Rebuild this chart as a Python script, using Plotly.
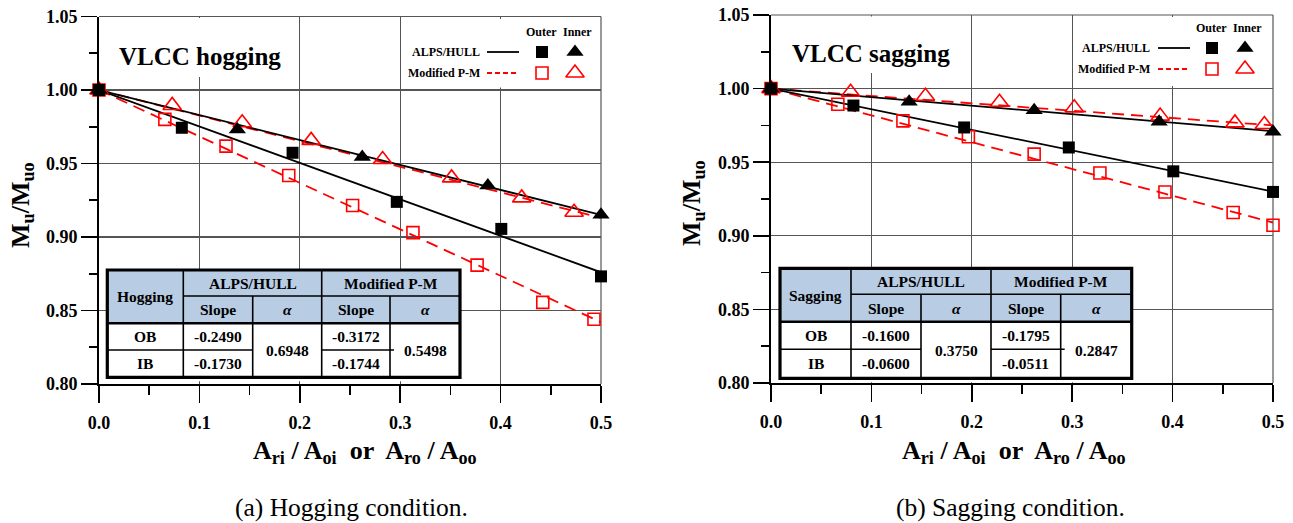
import plotly.graph_objects as go

W, H = 1293, 523
SERIF = "Liberation Serif"

# ---------------- data ----------------
# Hogging
hog_alps_outer_x = [0.0, 0.0825, 0.1928, 0.2966, 0.4007, 0.5]
hog_alps_outer_y = [1.000, 0.9743, 0.9573, 0.9239, 0.9055, 0.8732]
hog_alps_inner_x = [0.0, 0.1378, 0.2622, 0.3873, 0.5]
hog_alps_inner_y = [1.000, 0.9732, 0.9545, 0.9350, 0.9152]
hog_pm_outer_x = [0.0, 0.0656, 0.1265, 0.1890, 0.2526, 0.3127, 0.3766, 0.4420, 0.4930]
hog_pm_outer_y = [1.000, 0.9800, 0.9618, 0.9418, 0.9214, 0.9030, 0.8809, 0.8555, 0.8440]
hog_pm_inner_x = [0.0, 0.0729, 0.1426, 0.2113, 0.2825, 0.3512, 0.4210, 0.4732]
hog_pm_inner_y = [1.000, 0.9895, 0.9777, 0.9657, 0.9527, 0.9402, 0.9266, 0.9168]
# fitted straight lines (end points)
fit_x = [0.0, 0.5]
hog_fit_alps_outer = [1.0, 0.876]
hog_fit_alps_inner = [1.0, 0.915]
hog_fit_pm_outer = [1.0, 0.842]
hog_fit_pm_inner = [1.0, 0.913]

# Sagging
sag_alps_outer_x = [0.0, 0.0821, 0.1924, 0.2966, 0.4007, 0.5]
sag_alps_outer_y = [1.000, 0.9885, 0.9736, 0.9600, 0.9438, 0.9298]
sag_alps_inner_x = [0.0, 0.1376, 0.2621, 0.3866, 0.5]
sag_alps_inner_y = [1.000, 0.9910, 0.9853, 0.9774, 0.9707]
sag_pm_outer_x = [0.0, 0.0666, 0.1314, 0.1966, 0.2621, 0.3276, 0.3924, 0.4603, 0.5]
sag_pm_outer_y = [1.000, 0.9894, 0.9781, 0.9673, 0.9555, 0.9427, 0.9298, 0.9158, 0.9072]
sag_pm_inner_x = [0.0, 0.0793, 0.1538, 0.2276, 0.3021, 0.3876, 0.4621, 0.4914]
sag_pm_inner_y = [1.000, 0.9975, 0.9948, 0.9907, 0.9869, 0.9813, 0.9767, 0.9756]
sag_fit_alps_outer = [1.0, 0.930]
sag_fit_alps_inner = [1.0, 0.971]
sag_fit_pm_outer = [1.0, 0.909]
sag_fit_pm_inner = [1.0, 0.975]

# table texts
tbl_groups = ["ALPS/HULL", "Modified P-M"]
tbl_sub = ["Slope", "<i>α</i>", "Slope", "<i>α</i>"]
tbl_rows = ["OB", "IB"]
hog_slope_alps = ["-0.2490", "-0.1730"]
hog_alpha_alps = "0.6948"
hog_slope_pm = ["-0.3172", "-0.1744"]
hog_alpha_pm = "0.5498"
sag_slope_alps = ["-0.1600", "-0.0600"]
sag_alpha_alps = "0.3750"
sag_slope_pm = ["-0.1795", "-0.0511"]
sag_alpha_pm = "0.2847"

legend_names = ["ALPS/HULL", "Modified P-M"]
legend_heads = ["Outer", "Inner"]

x_ticks = [0.0, 0.1, 0.2, 0.3, 0.4, 0.5]
y_ticks = [0.80, 0.85, 0.90, 0.95, 1.00, 1.05]

# ---------------- styles ----------------
BLACK = "black"
RED = "#ff0000"
BLUE = "#b8cce4"
GRID = "#555555"
SQ = dict(symbol="square", size=12, color=BLACK)
TRI = dict(symbol="triangle-up", size=15, color=BLACK)
SQO = dict(symbol="square-open", size=12, color=RED, line=dict(color=RED, width=1.6))
TRIO = dict(symbol="triangle-up-open", size=16, color=RED, line=dict(color=RED, width=1.6))
SOLID = dict(color=BLACK, width=1.8)
DASH = dict(color=RED, width=1.8, dash="12px,7px")

fig = go.Figure()


def add_panel(xa, ya, fits, series):
    fa_o, fa_i, fp_o, fp_i = fits
    for yv, ln in [(fp_o, DASH), (fp_i, DASH), (fa_o, SOLID), (fa_i, SOLID)]:
        fig.add_trace(go.Scatter(x=fit_x, y=yv, mode="lines", line=ln,
                                 xaxis=xa, yaxis=ya, cliponaxis=False, hoverinfo="skip"))
    for (xs, ys), mk in zip(series, [SQO, TRIO, SQ, TRI]):
        fig.add_trace(go.Scatter(x=xs, y=ys, mode="markers", marker=mk,
                                 xaxis=xa, yaxis=ya, cliponaxis=False))


add_panel("x", "y",
          (hog_fit_alps_outer, hog_fit_alps_inner, hog_fit_pm_outer, hog_fit_pm_inner),
          [(hog_pm_outer_x, hog_pm_outer_y), (hog_pm_inner_x, hog_pm_inner_y),
           (hog_alps_outer_x, hog_alps_outer_y), (hog_alps_inner_x, hog_alps_inner_y)])
add_panel("x2", "y2",
          (sag_fit_alps_outer, sag_fit_alps_inner, sag_fit_pm_outer, sag_fit_pm_inner),
          [(sag_pm_outer_x, sag_pm_outer_y), (sag_pm_inner_x, sag_pm_inner_y),
           (sag_alps_outer_x, sag_alps_outer_y), (sag_alps_inner_x, sag_alps_inner_y)])

shapes = []
annots = []


def txt(x, y, s, size, bold=True, anchor="center", angle=0):
    annots.append(dict(x=x, y=y, xref="x3", yref="y3", text=s,
                       showarrow=False, xanchor=anchor, yanchor="middle", textangle=angle,
                       font=dict(family=SERIF, size=size, color=BLACK,
                                 weight="bold" if bold else "normal")))


def rect(x0, y0, x1, y1, fill, layer="above", line=None):
    shapes.append(dict(type="rect", xref="x3", yref="y3", x0=x0, y0=y0, x1=x1, y1=y1,
                       fillcolor=fill, line=line or dict(width=0), layer=layer))


def seg(x0, y0, x1, y1, w=1.6, color=BLACK, dash=None):
    ln = dict(color=color, width=w)
    if dash:
        ln["dash"] = dash
    shapes.append(dict(type="line", xref="x3", yref="y3", x0=x0, y0=y0, x1=x1, y1=y1,
                       line=ln, layer="above"))


def add_table(cx, ry, corner, s_alps, a_alps, s_pm, a_pm):
    c0, c1, c2, c3, c4, c5 = cx
    r0, r1, r2, r3, r4 = ry
    rect(c0, r0, c5, r4 + 4, "white")
    rect(c0, r0, c5, r2, BLUE)
    seg(c1, r0, c1, r4)
    seg(c3, r0, c3, r4)
    seg(c2, r1, c2, r4)
    seg(c4, r1, c4, r4)
    seg(c1, r1, c5, r1)
    seg(c0, r2, c5, r2, w=2.5)
    seg(c0, r3, c2, r3)
    seg(c3, r3, c4 + 4, r3)
    rect(c0, r0, c5, r4, "rgba(0,0,0,0)", line=dict(color=BLACK, width=3.2))
    fs = 15.5
    mx = lambda a, b: (a + b) / 2
    txt(mx(c0, c1), mx(r0, r2), corner, fs)
    txt(mx(c1, c3), mx(r0, r1), tbl_groups[0], fs)
    txt(mx(c3, c5), mx(r0, r1), tbl_groups[1], fs)
    for (a, b), s in zip([(c1, c2), (c2, c3), (c3, c4), (c4, c5)], tbl_sub):
        txt(mx(a, b), mx(r1, r2), s, fs)
    for (a, b), lab, va, vp in zip([(r2, r3), (r3, r4)], tbl_rows, s_alps, s_pm):
        txt(mx(c0, c1), mx(a, b), lab, fs)
        txt(mx(c1, c2), mx(a, b), va, fs)
        txt(mx(c3, c4), mx(a, b), vp, fs)
    txt(mx(c2, c3), mx(r2, r4), a_alps, fs)
    txt(mx(c4, c5), mx(r2, r4), a_pm, fs)


add_table((107.3, 183.3, 252.7, 321.7, 390, 460), (270, 296, 323.3, 350, 377.3),
          "Hogging", hog_slope_alps, hog_alpha_alps, hog_slope_pm, hog_alpha_pm)
add_table((780, 851, 921, 991, 1060.7, 1131.7), (268.3, 294.3, 321.7, 349.3, 378.3),
          "Sagging", sag_slope_alps, sag_alpha_alps, sag_slope_pm, sag_alpha_pm)


def add_legend(box, text_right, line_x, rows_y, head_y, mk_x):
    rect(*box, "white", layer="below")
    txt(mk_x[0] - 1, head_y, legend_heads[0], 12)
    txt(mk_x[1] + 2, head_y, legend_heads[1], 12)
    txt(text_right, rows_y[0], legend_names[0], 12, anchor="right")
    txt(text_right, rows_y[1], legend_names[1], 12, anchor="right")
    seg(line_x[0], rows_y[0], line_x[1], rows_y[0], w=1.8)
    seg(line_x[0], rows_y[1], line_x[1], rows_y[1], w=1.8, color=RED, dash="5px,3px")
    for xs, mk, yy in [(mk_x[0], SQ, rows_y[0]), (mk_x[1], TRI, rows_y[0]),
                       (mk_x[0], SQO, rows_y[1]), (mk_x[1], TRIO, rows_y[1])]:
        fig.add_trace(go.Scatter(x=[xs], y=[yy], mode="markers", marker=mk,
                                 xaxis="x3", yaxis="y3", cliponaxis=False, hoverinfo="skip"))


add_legend((403, 19, 598, 87.5), 482, (487, 519), (52, 73), 32, (542, 575))
add_legend((1075, 17, 1270, 86), 1152, (1158, 1190), (48, 69), 28, (1212, 1245))

# title boxes
rect(112, 18, 290, 77, "white")
txt(200, 56, "VLCC hogging", 25)
rect(782, 16.5, 962, 73, "white")
txt(871, 53, "VLCC sagging", 25)

# axis titles & captions
xt = "A<sub>ri</sub> / A<sub>oi</sub>  or  A<sub>ro</sub> / A<sub>oo</sub>"
txt(365, 452, xt, 26)
txt(1014, 452, xt, 26)
yt = "M<sub>u</sub>/M<sub>uo</sub>"
txt(22, 205, yt, 26, angle=-90)
txt(693, 203, yt, 26, angle=-90)
txt(351, 507, "(a) Hogging condition.", 25.5, bold=False)
txt(1010, 507, "(b) Sagging condition.", 25.5, bold=False)

# frame (top & right) of both panels
for xd, yd in [("x domain", "y domain"), ("x2 domain", "y2 domain")]:
    shapes.append(dict(type="line", xref=xd, yref=yd, x0=0, y0=1, x1=1, y1=1,
                       line=dict(color=GRID, width=1.2), layer="below"))
    shapes.append(dict(type="line", xref=xd, yref=yd, x0=1, y0=0, x1=1, y1=1,
                       line=dict(color=GRID, width=1.2), layer="below"))

tickfont = dict(family=SERIF, size=18, color=BLACK, weight="bold")
common_x = dict(range=[0, 0.5], tickvals=x_ticks, ticktext=["%.1f" % v for v in x_ticks],
                showgrid=True, gridcolor=GRID, gridwidth=1.2, zeroline=False,
                showline=True, linecolor=BLACK, linewidth=2, automargin=False,
                ticks="outside", ticklen=17, tickwidth=1.6, tickcolor=BLACK,
                tickfont=tickfont, ticklabelstandoff=4,
                minor=dict(tickvals=[0.05, 0.15, 0.25, 0.35, 0.45], ticks="outside",
                           ticklen=9, tickwidth=1.6, tickcolor=BLACK, showgrid=False),
                fixedrange=True)
common_y = dict(range=[0.80, 1.05], tickvals=y_ticks, ticktext=["%.2f" % v for v in y_ticks],
                showgrid=True, gridcolor=GRID, gridwidth=1.2, zeroline=False,
                showline=True, linecolor=BLACK, linewidth=2, automargin=False,
                ticks="outside", ticklen=16, tickwidth=1.6, tickcolor=BLACK,
                tickfont=tickfont,
                minor=dict(tickvals=[0.825, 0.875, 0.925, 0.975, 1.025], ticks="outside",
                           ticklen=8, tickwidth=1.6, tickcolor=BLACK, showgrid=False),
                fixedrange=True)

fig.update_layout(
    template="none",
    font=dict(family=SERIF, color=BLACK),
    width=W, height=H, margin=dict(l=0, r=0, t=0, b=0, pad=0),
    paper_bgcolor="white", plot_bgcolor="rgba(0,0,0,0)", showlegend=False,
    hovermode=False,
    xaxis=dict(common_x, domain=[99 / W, 601 / W], anchor="y"),
    yaxis=dict(common_y, domain=[1 - 384 / H, 1 - 16.5 / H], anchor="x"),
    xaxis2=dict(common_x, domain=[771 / W, 1273 / W], anchor="y2"),
    yaxis2=dict(common_y, domain=[1 - 383 / H, 1 - 15 / H], anchor="x2"),
    xaxis3=dict(domain=[0, 1], range=[0, W], visible=False, fixedrange=True, anchor="y3",
                automargin=False),
    yaxis3=dict(domain=[0, 1], range=[H, 0], visible=False, fixedrange=True, anchor="x3",
                automargin=False),
    shapes=shapes, annotations=annots,
)

fig.write_html("out.html", config={"displayModeBar": False, "staticPlot": True},
               post_script="document.body.style.margin='0';document.body.style.overflow='hidden';")
